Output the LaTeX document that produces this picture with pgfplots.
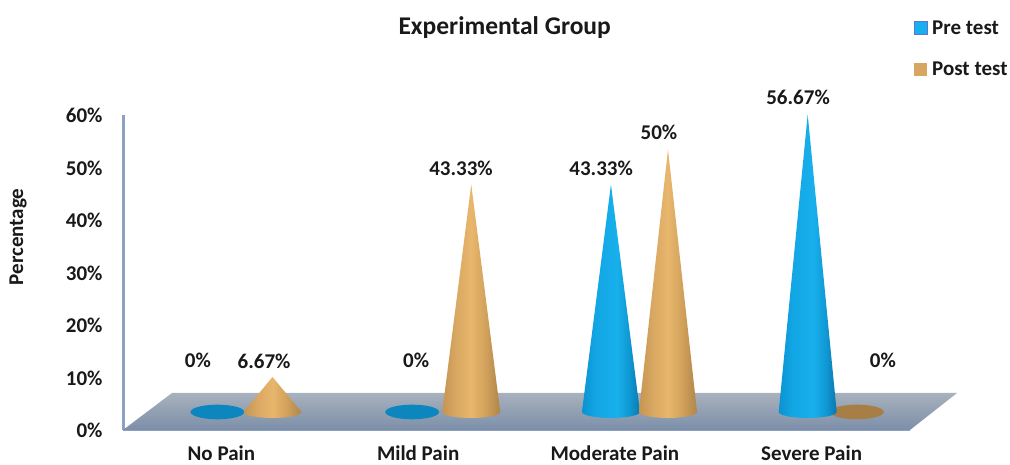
\documentclass[border=0pt]{standalone}
\usepackage{pgfplots}
\usepackage{pgfplotstable}
\usepackage{fontspec}
\pgfplotsset{compat=1.18}
\setmainfont{Carlito}
\definecolor{preA}{HTML}{0C92D0}\definecolor{preB}{HTML}{12A6E4}\definecolor{preC}{HTML}{18B0EC}\definecolor{preD}{HTML}{0F97D2}\definecolor{preE}{HTML}{0A78AE}
\definecolor{postA}{HTML}{C49552}\definecolor{postB}{HTML}{D9A862}\definecolor{postC}{HTML}{E8B66C}\definecolor{postD}{HTML}{D2A25C}\definecolor{postE}{HTML}{B0854A}
\definecolor{axisc}{HTML}{8CA2C0}
\pgfdeclarehorizontalshading{coneblue}{100bp}{color(0bp)=(preA); color(25bp)=(preA); color(37bp)=(preB); color(55bp)=(preC); color(66bp)=(preD); color(75bp)=(preE); color(100bp)=(preE)}
\pgfdeclarehorizontalshading{conetan}{100bp}{color(0bp)=(postA); color(25bp)=(postA); color(37bp)=(postB); color(50bp)=(postC); color(62bp)=(postD); color(75bp)=(postE); color(100bp)=(postE)}
\tikzset{
 preshade/.style={shade,shading=coneblue,draw=none},
 postshade/.style={shade,shading=conetan,draw=none},
 lab/.style={font=\fontsize{21}{25}\selectfont\bfseries,text=black!90,inner sep=0pt,anchor=center}
}
% cone outline: dx in half-widths, a = share of the value, b = floor-relative offset (in % units)
\pgfplotstableread{
dx a b
0 1 0
1 0 0
0.966 0 -0.295
0.866 0 -0.57
0.707 0 -0.806
0.5 0 -0.987
0.259 0 -1.101
0 0 -1.14
-0.259 0 -1.101
-0.5 0 -0.987
-0.707 0 -0.806
-0.866 0 -0.57
-0.966 0 -0.295
-1 0 0
}\coneoutline
\pgfplotstableread{
dx a b
1 1 0
0.966 1 -0.36
0.866 1 -0.7
0.707 1 -0.99
0.5 1 -1.21
0.259 1 -1.35
0 1 -1.4
-0.259 1 -1.35
-0.5 1 -1.21
-0.707 1 -0.99
-0.866 1 -0.7
-0.966 1 -0.36
-1 1 0
-0.966 1 0.36
-0.866 1 0.7
-0.707 1 0.99
-0.5 1 1.21
-0.259 1 1.35
0 1 1.4
0.259 1 1.35
0.5 1 1.21
0.707 1 0.99
0.866 1 0.7
0.966 1 0.36
}\flatoutline
\newcommand{\cone}[3]{\addplot[#3,forget plot] table[x expr=#1+0.1474*\thisrow{dx},y expr=\thisrow{a}*#2+3.43+\thisrow{b}] {\coneoutline} --cycle;}
\newcommand{\flatcone}[3]{\addplot[fill=#3,draw=none,forget plot] table[x expr=#1+0.1372*\thisrow{dx},y expr=\thisrow{a}*#2+3.43+\thisrow{b}] {\flatoutline} --cycle;}
\begin{document}
\begin{tikzpicture}[x=1pt,y=1pt]
\path[use as bounding box] (0,0) rectangle (1010,465);
\begin{axis}[
 at={(123pt,35pt)},anchor=origin,
 scale only axis,width=787pt,height=315pt,
 xmin=0,xmax=4,ymin=0,ymax=60,
 clip=false,
 axis x line*=bottom,axis y line*=left,
 axis line style={-,draw=axisc,line width=3pt},
 major tick length=0pt,
 xtick={0.5,1.5,2.5,3.5},
 xticklabels={No Pain,Mild Pain,Moderate Pain,Severe Pain},
 ytick={0,10,20,30,40,50,60},
 yticklabels={0\%,10\%,20\%,30\%,40\%,50\%,60\%},
 tick label style={font=\fontsize{21}{25}\selectfont\bfseries,text=black!90},
 xticklabel style={anchor=base,yshift=-30.5pt},
 yticklabel style={anchor=east,xshift=-17pt,yshift=-0.5pt},
 every axis title shift=0pt,
 title={Experimental Group},
 title style={at={(rel axis cs:0.485,1.277)},anchor=center,inner sep=0pt,font=\fontsize{25.5}{30}\selectfont\bfseries,text=black!90},
 ylabel={Percentage},
 every axis y label/.style={at={(rel axis cs:-0.1334,0.613)},rotate=90,anchor=center,inner sep=0pt,font=\fontsize{21}{25}\selectfont\bfseries,text=black!90},
 legend style={at={(rel axis cs:1.0,1.30)},anchor=north west,draw=none,fill=none,inner sep=0pt,
   font=\fontsize{21}{25}\selectfont\bfseries,text=black!90,row sep=26pt,
   nodes={inner sep=0pt,anchor=west}},
 legend cell align=left,
 legend image code/.code={\path[#1] (4pt,-6.5pt) rectangle (17pt,6.5pt);\path[draw=none,fill=none] (0pt,0pt) -- (22pt,0pt);},
]
% floor
\addplot[top color=black!30!axisc!55!white,bottom color=axisc!88!black,draw=none,forget plot] coordinates {(0,0) (4,0) (4.239,7.05) (0.249,7.05)} --cycle;
% flat (0%) cones
\flatcone{0.48}{0}{preA!92!black}
\flatcone{1.47}{0}{preA!92!black}
\flatcone{3.73}{0}{postE!95!black}
% Pre test
\cone{2.48}{43.33}{preshade}
\cone{3.48}{56.67}{preshade}
% Post test
\cone{0.76}{6.67}{postshade}
\cone{1.77}{43.33}{postshade}
\cone{2.77}{50}{postshade}
\addlegendimage{fill=preC,draw=axisc!70!blue,line width=1.4pt}
\addlegendentry{Pre test}
\addlegendimage{fill=postC!70!postE,draw=none}
\addlegendentry{Post test}
\node[lab] at (axis cs:0.381,13.33) {0\%};
\node[lab] at (axis cs:0.717,13.1) {6.67\%};
\node[lab] at (axis cs:1.49,13.33) {0\%};
\node[lab] at (axis cs:1.718,49.9) {43.33\%};
\node[lab] at (axis cs:2.43,49.9) {43.33\%};
\node[lab] at (axis cs:2.724,56.6) {50\%};
\node[lab] at (axis cs:3.431,63.3) {56.67\%};
\node[lab] at (axis cs:3.862,13.33) {0\%};
\end{axis}
\end{tikzpicture}
\end{document}
